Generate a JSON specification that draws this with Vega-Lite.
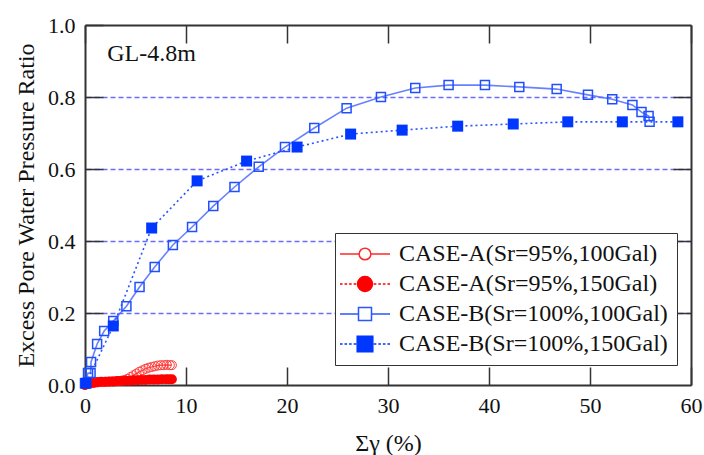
{
  "$schema": "https://vega.github.io/schema/vega-lite/v6.json",
  "width": 606,
  "height": 360,
  "autosize": {"type": "none"},
  "padding": {"left": 85, "top": 25, "right": 13, "bottom": 70},
  "config": {
    "view": {"stroke": null},
    "font": "Liberation Serif",
    "axis": {"labelFlush": false, "labelOverlap": false}
  },
  "datasets": {
    "A100": [
      {"x": 0, "y": 0}, {"x": 0.3, "y": 0.003}, {"x": 0.6, "y": 0.005}, {"x": 0.9, "y": 0.006},
      {"x": 1.2, "y": 0.007}, {"x": 1.5, "y": 0.008}, {"x": 1.8, "y": 0.008}, {"x": 2.1, "y": 0.009},
      {"x": 2.4, "y": 0.009}, {"x": 2.7, "y": 0.01}, {"x": 3.0, "y": 0.01}, {"x": 3.3, "y": 0.011},
      {"x": 3.6, "y": 0.012}, {"x": 3.9, "y": 0.014}, {"x": 4.2, "y": 0.017}, {"x": 4.5, "y": 0.022},
      {"x": 4.8, "y": 0.027}, {"x": 5.1, "y": 0.032}, {"x": 5.4, "y": 0.037}, {"x": 5.7, "y": 0.041},
      {"x": 6.0, "y": 0.045}, {"x": 6.3, "y": 0.048}, {"x": 6.6, "y": 0.05}, {"x": 6.9, "y": 0.052},
      {"x": 7.2, "y": 0.054}, {"x": 7.5, "y": 0.055}, {"x": 7.8, "y": 0.055}, {"x": 8.1, "y": 0.056},
      {"x": 8.4, "y": 0.055}, {"x": 8.6, "y": 0.055}
    ],
    "A150": [
      {"x": 0, "y": 0}, {"x": 0.4, "y": 0.004}, {"x": 0.8, "y": 0.006}, {"x": 1.2, "y": 0.008},
      {"x": 1.6, "y": 0.009}, {"x": 2.0, "y": 0.009}, {"x": 2.4, "y": 0.01}, {"x": 2.8, "y": 0.01},
      {"x": 3.2, "y": 0.011}, {"x": 3.6, "y": 0.011}, {"x": 4.0, "y": 0.012}, {"x": 4.4, "y": 0.012},
      {"x": 4.8, "y": 0.013}, {"x": 5.2, "y": 0.013}, {"x": 5.6, "y": 0.014}, {"x": 6.0, "y": 0.014},
      {"x": 6.4, "y": 0.015}, {"x": 6.8, "y": 0.015}, {"x": 7.2, "y": 0.015}, {"x": 7.6, "y": 0.016},
      {"x": 8.0, "y": 0.016}, {"x": 8.3, "y": 0.016}, {"x": 8.6, "y": 0.016}
    ],
    "B100": [
      {"x": 0, "y": 0.005}, {"x": 0.3, "y": 0.033}, {"x": 0.55, "y": 0.033}, {"x": 0.6, "y": 0.064},
      {"x": 1.2, "y": 0.114}, {"x": 1.9, "y": 0.15}, {"x": 2.8, "y": 0.178}, {"x": 4.1, "y": 0.219},
      {"x": 5.4, "y": 0.272}, {"x": 6.9, "y": 0.328}, {"x": 8.7, "y": 0.389}, {"x": 10.6, "y": 0.439},
      {"x": 12.7, "y": 0.497}, {"x": 14.8, "y": 0.55}, {"x": 17.2, "y": 0.606}, {"x": 19.8, "y": 0.661},
      {"x": 22.7, "y": 0.714}, {"x": 25.9, "y": 0.769}, {"x": 29.3, "y": 0.8}, {"x": 32.7, "y": 0.825},
      {"x": 36.0, "y": 0.833}, {"x": 39.6, "y": 0.833}, {"x": 43.0, "y": 0.828}, {"x": 46.7, "y": 0.822},
      {"x": 49.8, "y": 0.806}, {"x": 52.2, "y": 0.794}, {"x": 54.2, "y": 0.778}, {"x": 55.1, "y": 0.758},
      {"x": 55.8, "y": 0.747}, {"x": 55.9, "y": 0.731}
    ],
    "B150": [
      {"x": 0.1, "y": 0.005}, {"x": 2.8, "y": 0.164}, {"x": 6.6, "y": 0.436}, {"x": 11.1, "y": 0.567},
      {"x": 16.0, "y": 0.622}, {"x": 21.0, "y": 0.661}, {"x": 26.3, "y": 0.697}, {"x": 31.4, "y": 0.708},
      {"x": 36.9, "y": 0.719}, {"x": 42.4, "y": 0.725}, {"x": 47.8, "y": 0.731}, {"x": 53.2, "y": 0.731},
      {"x": 58.7, "y": 0.731}
    ]
  },
  "layer": [
    {
      "data": {"values": []},
      "mark": {"type": "point", "opacity": 0},
      "encoding": {
        "x": {"field": "x", "type": "quantitative",
          "axis": {"orient": "top", "values": [0, 10, 20, 30, 40, 50, 60], "labels": false, "title": null,
            "tickSize": -18, "tickColor": "#333", "tickWidth": 1.5, "domainColor": "#333", "domainWidth": 2, "grid": false}},
        "y": {"field": "y", "type": "quantitative",
          "axis": {"orient": "right", "values": [0.2, 0.4, 0.6, 0.8], "labels": false, "title": null,
            "tickSize": -18, "tickColor": "#333", "tickWidth": 1.5, "domainColor": "#333", "domainWidth": 2,
            "grid": true, "gridColor": "#6b6bff", "gridDash": [5, 3], "gridWidth": 1.4, "gridOpacity": 1}}
      }
    },
    {
      "data": {"values": []},
      "mark": {"type": "point", "opacity": 1, "strokeWidth": 1.5},
      "encoding": {
        "x": {"field": "x", "type": "quantitative", "scale": {"domain": [0, 60], "nice": false, "zero": false},
          "axis": {"orient": "bottom", "values": [0, 10, 20, 30, 40, 50, 60], "format": "d",
            "title": "Σγ (%)", "titleFont": "Liberation Serif", "titleFontSize": 24, "titleFontWeight": "normal", "titleColor": "#111", "titlePadding": 15,
            "labelFont": "Liberation Serif", "labelFontSize": 22, "labelColor": "#111", "labelPadding": 28,
            "tickSize": -18, "tickColor": "#333", "tickWidth": 1.5, "domainColor": "#333", "domainWidth": 2, "grid": false}},
        "y": {"field": "y", "type": "quantitative", "scale": {"domain": [0, 1], "nice": false},
          "axis": {"orient": "left", "values": [0, 0.2, 0.4, 0.6, 0.8, 1], "format": ".1f",
            "title": "Excess Pore Water Pressure Ratio", "titleFont": "Liberation Serif", "titleFontSize": 24, "titleFontWeight": "normal", "titleColor": "#111", "titlePadding": 9,
            "labelFont": "Liberation Serif", "labelFontSize": 22, "labelColor": "#111", "labelPadding": 28,
            "tickSize": -18, "tickColor": "#333", "tickWidth": 1.5, "domainColor": "#333", "domainWidth": 2,
            "grid": false}},
        "fill": {"field": "series", "type": "nominal",
          "scale": {"domain": ["CASE-A(Sr=95%,100Gal)", "CASE-A(Sr=95%,150Gal)", "CASE-B(Sr=100%,100Gal)", "CASE-B(Sr=100%,150Gal)"],
            "range": ["white", "#ff0000", "white", "#0037ff"]},
          "legend": {"title": null, "orient": "none", "legendX": 250, "legendY": 208,
            "fillColor": "white", "strokeColor": "#333", "padding": 9, "rowPadding": 6,
            "labelFont": "Liberation Serif", "labelFontSize": 24, "labelColor": "#111", "labelLimit": 400,
            "symbolSize": 169, "symbolStrokeWidth": 1.5, "symbolOffset": 9, "labelOffset": 22}},
        "stroke": {"field": "series", "type": "nominal",
          "scale": {"domain": ["CASE-A(Sr=95%,100Gal)", "CASE-A(Sr=95%,150Gal)", "CASE-B(Sr=100%,100Gal)", "CASE-B(Sr=100%,150Gal)"],
            "range": ["#ff2a2a", "#ff0000", "#2a55ff", "#0037ff"]},
          "legend": {"title": null}},
        "shape": {"field": "series", "type": "nominal",
          "scale": {"domain": ["CASE-A(Sr=95%,100Gal)", "CASE-A(Sr=95%,150Gal)", "CASE-B(Sr=100%,100Gal)", "CASE-B(Sr=100%,150Gal)"],
            "range": [
              "M-3.85,0H-0.9M0.9,0H3.85M-0.9,0A0.9,0.9,0,1,1,0.9,0A0.9,0.9,0,1,1,-0.9,0Z",
              "M-3.85,0H-3.45M-3.15,0H-2.75M-2.45,0H-2.05M-1.75,0H-1.35M1.35,0H1.75M2.05,0H2.45M2.75,0H3.15M3.45,0H3.85M-1.15,0A1.15,1.15,0,1,1,1.15,0A1.15,1.15,0,1,1,-1.15,0Z",
              "M-3.85,0H-1M1,0H3.85M-1,-1H1V1H-1Z",
              "M-3.85,0H-3.45M-3.15,0H-2.75M-2.45,0H-2.05M-1.75,0H-1.35M1.35,0H1.75M2.05,0H2.45M2.75,0H3.15M3.45,0H3.85M-1.2,-1.2H1.2V1.2H-1.2Z"
            ]},
          "legend": {"title": null}}
      }
    },
    {
      "data": {"name": "A100"},
      "mark": {"type": "line", "color": "#ff2a2a", "strokeWidth": 1.2},
      "encoding": {"x": {"field": "x", "type": "quantitative", "axis": null}, "y": {"field": "y", "type": "quantitative", "axis": null}}
    },
    {
      "data": {"name": "A100"},
      "mark": {"type": "point", "shape": "circle", "size": 81, "stroke": "#ff3b3b", "strokeWidth": 1, "filled": false, "opacity": 1},
      "encoding": {"x": {"field": "x", "type": "quantitative", "axis": null}, "y": {"field": "y", "type": "quantitative", "axis": null}}
    },
    {
      "data": {"name": "A150"},
      "mark": {"type": "line", "color": "#ff0000", "strokeWidth": 1.2, "strokeDash": [2, 2]},
      "encoding": {"x": {"field": "x", "type": "quantitative", "axis": null}, "y": {"field": "y", "type": "quantitative", "axis": null}}
    },
    {
      "data": {"name": "A150"},
      "mark": {"type": "point", "shape": "circle", "size": 100, "color": "#ff0000", "filled": true, "opacity": 1},
      "encoding": {"x": {"field": "x", "type": "quantitative", "axis": null}, "y": {"field": "y", "type": "quantitative", "axis": null}}
    },
    {
      "data": {"name": "B100"},
      "mark": {"type": "line", "color": "#4d6bff", "strokeWidth": 1.6, "opacity": 0.85},
      "encoding": {"x": {"field": "x", "type": "quantitative", "axis": null}, "y": {"field": "y", "type": "quantitative", "axis": null}}
    },
    {
      "data": {"name": "B100"},
      "mark": {"type": "point", "shape": "square", "size": 81, "stroke": "#1f4fff", "strokeWidth": 1.5, "filled": false, "opacity": 1},
      "encoding": {"x": {"field": "x", "type": "quantitative", "axis": null}, "y": {"field": "y", "type": "quantitative", "axis": null}}
    },
    {
      "data": {"name": "B150"},
      "mark": {"type": "line", "color": "#2a55ff", "strokeWidth": 1.6, "strokeDash": [2, 3]},
      "encoding": {"x": {"field": "x", "type": "quantitative", "axis": null}, "y": {"field": "y", "type": "quantitative", "axis": null}}
    },
    {
      "data": {"name": "B150"},
      "mark": {"type": "point", "shape": "square", "size": 121, "color": "#0037ff", "filled": true, "opacity": 1},
      "encoding": {"x": {"field": "x", "type": "quantitative", "axis": null}, "y": {"field": "y", "type": "quantitative", "axis": null}}
    },
    {
      "data": {"values": [{"label": "GL-4.8m"}]},
      "mark": {"type": "text", "align": "left", "baseline": "middle", "font": "Liberation Serif", "fontSize": 24, "color": "#111"},
      "encoding": {
        "x": {"datum": 2.2, "type": "quantitative", "axis": null},
        "y": {"datum": 0.92, "type": "quantitative", "axis": null},
        "text": {"field": "label", "type": "nominal"}
      }
    }
  ],
  "resolve": {"axis": {"x": "independent", "y": "independent"}}
}
